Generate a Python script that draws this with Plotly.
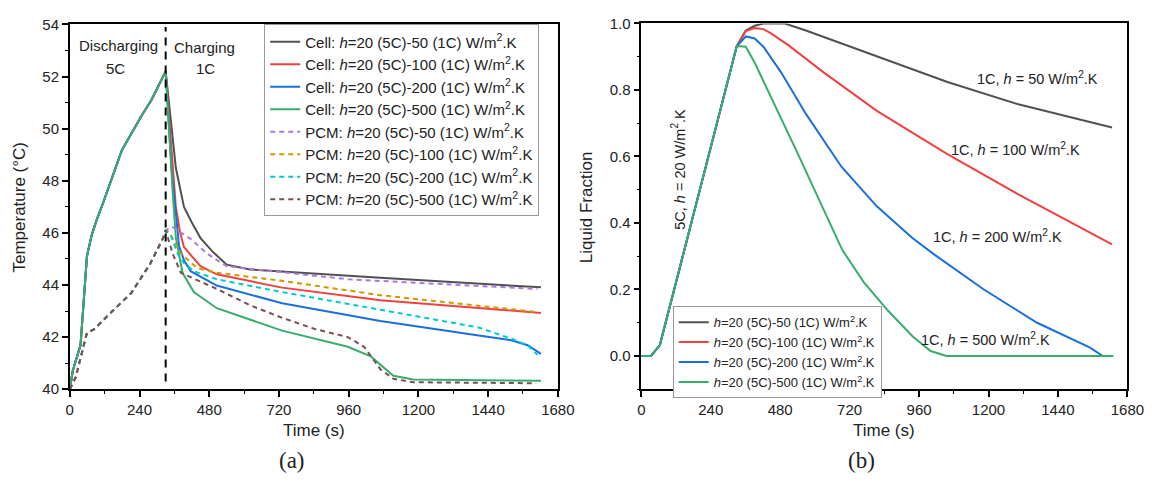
import plotly.graph_objects as go

# ---------------- data (a): temperature ----------------
SWITCH_T = 330
# discharge (identical for all cells / all PCM)
T_CELL_DIS = [0, 10, 37, 59, 75, 91, 112, 179, 247, 281, 330]
CELL_DIS = [40.0, 40.7, 41.7, 45.1, 45.9, 46.45, 47.07, 49.17, 50.5, 51.1, 52.2]
T_PCM_DIS = [0, 20, 59, 83, 147, 212, 276, 321, 330]
PCM_DIS = [40.0, 40.45, 42.16, 42.3, 43.0, 43.7, 44.8, 45.8, 46.1]

# charging, cells
T_C50 = [350, 365, 393, 420, 450, 490, 540, 620, 1069, 1622]
C50 = [50.0, 48.5, 47.0, 46.4, 45.8, 45.3, 44.78, 44.6, 44.28, 43.91]
T_C100 = [350, 365, 380, 393, 421, 450, 506, 731, 1069, 1622]
C100 = [49.2, 47.0, 46.0, 45.46, 45.09, 44.72, 44.41, 43.9, 43.42, 42.93]
T_C200 = [350, 376, 393, 416, 506, 731, 1069, 1408, 1520, 1576, 1622]
C200 = [48.5, 45.5, 44.96, 44.53, 43.98, 43.3, 42.62, 42.06, 41.88, 41.69, 41.36]
T_C500 = [345, 354, 365, 388, 427, 506, 731, 957, 1036, 1069, 1114, 1182, 1622]
C500 = [49.0, 47.6, 45.83, 44.47, 43.73, 43.11, 42.25, 41.63, 41.26, 40.95, 40.52, 40.37, 40.33]

# charging, PCM
T_P50 = [354, 416, 472, 540, 957, 1610]
P50 = [46.22, 45.77, 45.21, 44.72, 44.22, 43.85]
T_P100 = [343, 382, 438, 506, 731, 1069, 1610]
P100 = [46.01, 45.21, 44.65, 44.47, 44.16, 43.61, 42.96]
T_P200 = [348, 371, 393, 427, 506, 731, 1069, 1408, 1520, 1576, 1610]
P200 = [45.89, 45.21, 44.84, 44.53, 44.22, 43.73, 43.05, 42.37, 41.94, 41.69, 41.32]
T_P500 = [354, 382, 506, 619, 731, 844, 957, 1013, 1069, 1114, 1182, 1605]
P500 = [45.21, 44.47, 43.85, 43.23, 42.74, 42.31, 42.0, 41.63, 40.77, 40.4, 40.27, 40.23]

# ---------------- data (b): liquid fraction ----------------
T_LF_DIS = [0, 33, 64, 150, 330]
LF_DIS = [0.0, 0.0, 0.032, 0.324, 0.932]
T_L50 = [361, 392, 422, 496, 569, 814, 1058, 1303, 1627]
L50 = [0.979, 0.993, 1.0, 1.0, 0.979, 0.901, 0.824, 0.757, 0.687]
T_L100 = [361, 392, 422, 447, 508, 630, 814, 1058, 1303, 1627]
L100 = [0.977, 0.986, 0.983, 0.971, 0.935, 0.853, 0.737, 0.607, 0.486, 0.336]
T_L200 = [361, 392, 422, 483, 569, 691, 814, 937, 1013, 1184, 1368, 1551, 1595, 1631]
L200 = [0.961, 0.955, 0.930, 0.853, 0.728, 0.57, 0.45, 0.355, 0.305, 0.2, 0.1, 0.025, 0.0, 0.0]
T_L500 = [361, 392, 540, 694, 768, 853, 939, 1000, 1055, 1631]
L500 = [0.930, 0.882, 0.61, 0.32, 0.223, 0.136, 0.058, 0.015, 0.0, 0.0]

H_LABELS = ["50", "100", "200", "500"]
COLORS = ["#515151", "#F14040", "#1A6FDF", "#37AD6B"]
PCM_COLORS = ["#B177DE", "#CC9900", "#00CBCC", "#7D4E4E"]

FONT = "Liberation Sans"
SERIF = "Liberation Serif"
TXT = "#222222"

fig = go.Figure()

cell_sets = [(T_C50, C50), (T_C100, C100), (T_C200, C200), (T_C500, C500)]
pcm_sets = [(T_P50, P50), (T_P100, P100), (T_P200, P200), (T_P500, P500)]
lf_sets = [(T_L50, L50), (T_L100, L100), (T_L200, L200), (T_L500, L500)]

for i, (tt, vv) in enumerate(cell_sets):
    fig.add_trace(go.Scatter(
        x=T_CELL_DIS + tt, y=CELL_DIS + vv, mode="lines",
        line=dict(color=COLORS[i], width=2),
        name=f"Cell: <i>h</i>=20 (5C)-{H_LABELS[i]} (1C) W/m<sup>2</sup>.K",
        xaxis="x", yaxis="y", legend="legend"))
for i, (tt, vv) in enumerate(pcm_sets):
    fig.add_trace(go.Scatter(
        x=T_PCM_DIS + tt, y=PCM_DIS + vv, mode="lines",
        line=dict(color=PCM_COLORS[i], width=2, dash="5px,4px"),
        name=f"PCM: <i>h</i>=20 (5C)-{H_LABELS[i]} (1C) W/m<sup>2</sup>.K",
        xaxis="x", yaxis="y", legend="legend"))
for i, (tt, vv) in enumerate(lf_sets):
    fig.add_trace(go.Scatter(
        x=T_LF_DIS + tt, y=LF_DIS + vv, mode="lines",
        line=dict(color=COLORS[i], width=2),
        name=f"<i>h</i>=20 (5C)-{H_LABELS[i]} (1C) W/m<sup>2</sup>.K",
        xaxis="x2", yaxis="y2", legend="legend2"))

# switch line
fig.add_shape(type="line", xref="x", yref="y", x0=SWITCH_T, x1=SWITCH_T, y0=40.3, y1=53.9,
              line=dict(color="black", width=2, dash="8px,6px"))

W, H = 1165, 487
axis_common = dict(showline=True, linecolor="black", linewidth=1.5, mirror=True,
                   ticks="outside", ticklen=6, tickwidth=1.5, tickcolor="black",
                   showgrid=False, zeroline=False,
                   tickfont=dict(family=FONT, size=15, color=TXT))

fig.update_layout(
    width=W, height=H, margin=dict(l=0, r=0, t=0, b=0), autosize=False,
    paper_bgcolor="white", plot_bgcolor="white",
    xaxis=dict(domain=[67 / W, 564 / W], range=[0, 1680], tickvals=list(range(0, 1681, 240)),
               minor=dict(ticks="outside", ticklen=3, tickwidth=1.2, tickcolor="black", dtick=120, tick0=0),
               anchor="y", **axis_common),
    yaxis=dict(domain=[(H - 394) / H, (H - 16) / H], range=[40, 54], dtick=2, tick0=40,
               minor=dict(ticks="outside", ticklen=3, tickwidth=1.2, tickcolor="black", dtick=1, tick0=40),
               anchor="x", **axis_common),
    xaxis2=dict(domain=[649 / W, 1144 / W], range=[0, 1680], tickvals=list(range(0, 1681, 240)),
                minor=dict(ticks="outside", ticklen=3, tickwidth=1.2, tickcolor="black", dtick=120, tick0=0),
                anchor="y2", **axis_common),
    yaxis2=dict(domain=[(H - 394) / H, (H - 15) / H], range=[-0.1, 1.0], dtick=0.2, tick0=0,
                tickformat=".1f",
                minor=dict(ticks="outside", ticklen=3, tickwidth=1.2, tickcolor="black", dtick=0.1, tick0=0),
                anchor="x2", **axis_common),
    legend=dict(x=265 / W, y=(H - 16) / H, xanchor="left", yanchor="top",
                bgcolor="white", bordercolor="#9a9a9a", borderwidth=1,
                font=dict(family=FONT, size=15, color=TXT), tracegroupgap=0,
                itemwidth=30),
    legend2=dict(x=681 / W, y=(H - 308) / H, xanchor="left", yanchor="top",
                 bgcolor="white", bordercolor="#9a9a9a", borderwidth=1,
                 font=dict(family=FONT, size=13, color=TXT), tracegroupgap=0,
                 itemwidth=30),
    showlegend=True,
)

ann = []
def txt(x, y, s, size=15, xref="x", yref="y", angle=0, family=FONT):
    ann.append(dict(x=x, y=y, xref=xref, yref=yref, text=s, showarrow=False,
                    textangle=angle, font=dict(family=family, size=size, color=TXT),
                    xanchor="center", yanchor="middle"))

# panel (a) labels
txt(169, 53.19, "Discharging")
txt(156, 52.3, "5C")
txt(463, 53.1, "Charging")
txt(467, 52.3, "1C")
# panel (b) labels
txt(1371, 0.835, "1C, <i>h</i> = 50 W/m<sup>2</sup>.K", size=14.5, xref="x2", yref="y2")
txt(1293, 0.623, "1C, <i>h</i> = 100 W/m<sup>2</sup>.K", size=14.5, xref="x2", yref="y2")
txt(1232, 0.362, "1C, <i>h</i> = 200 W/m<sup>2</sup>.K", size=14.5, xref="x2", yref="y2")
txt(1191, 0.052, "1C, <i>h</i> = 500 W/m<sup>2</sup>.K", size=14.5, xref="x2", yref="y2")
txt(129, 0.562, "5C, <i>h</i> = 20 W/m<sup>2</sup>.K", size=14.5, xref="x2", yref="y2", angle=-90)
# axis titles
txt(16 / W, (H - 205) / H, "Temperature (°C)", size=17, xref="paper", yref="paper", angle=-90)
txt(594 / W, (H - 205) / H, "Liquid Fraction", size=17, xref="paper", yref="paper", angle=-90)
txt(315.5 / W, (H - 437) / H, "Time (s)", size=17, xref="paper", yref="paper")
txt(896.5 / W, (H - 437) / H, "Time (s)", size=17, xref="paper", yref="paper")
# panel captions
txt(293 / W, (H - 468) / H, "(a)", size=23, xref="paper", yref="paper", family=SERIF)
txt(873 / W, (H - 468) / H, "(b)", size=23, xref="paper", yref="paper", family=SERIF)

fig.update_layout(annotations=ann)
fig.write_html("out.html", config={"responsive": False, "displayModeBar": False},
               post_script="document.body.style.margin='0';document.body.style.overflow='hidden';")
